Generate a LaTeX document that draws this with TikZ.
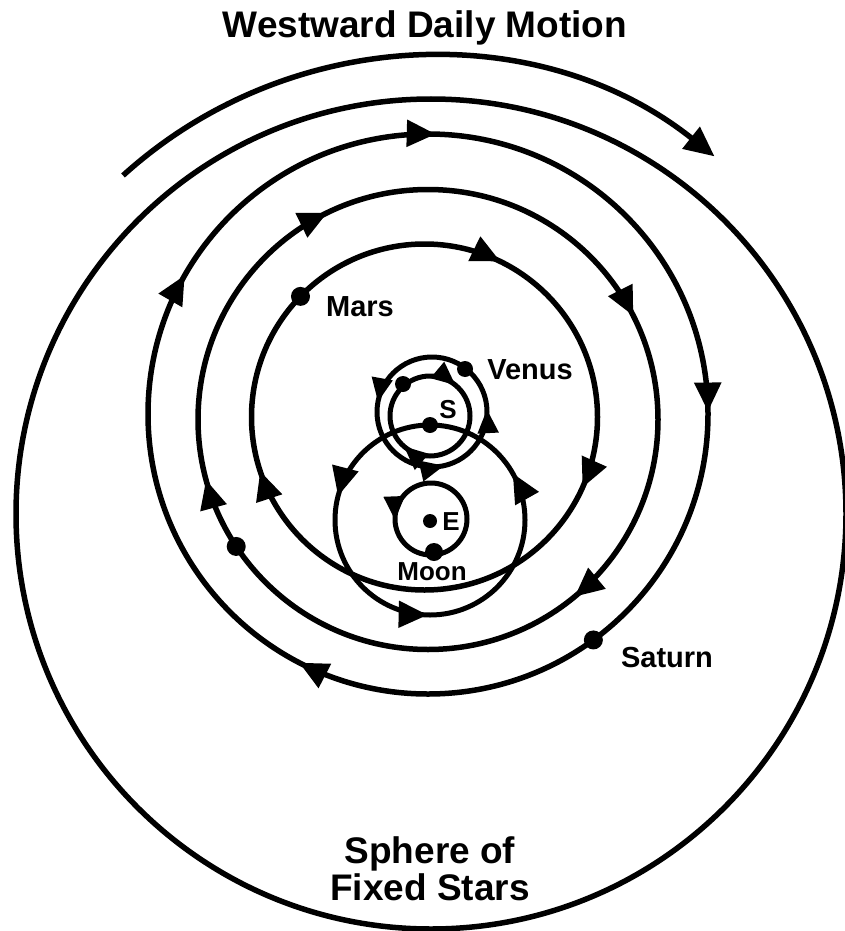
\documentclass[tikz,border=0pt]{standalone}
\usepackage{fontspec}
\setmainfont{Liberation Sans}
\usetikzlibrary{arrows.meta,decorations.markings}
\tikzset{
  orbit/.style={line width=5.5pt},
  thinorbit/.style={line width=5pt},
  bt/.tip={Triangle[length=29pt,width=26pt]},
  st/.tip={Triangle[length=24pt,width=20pt]},
  dot/.style={circle,fill,inner sep=0pt,minimum size=#1},
  dot/.default=19pt,
  title/.style={font=\fontsize{37}{40}\selectfont\bfseries,inner sep=0pt},
  lab/.style={font=\fontsize{29}{32}\selectfont\bfseries,inner sep=0pt},
  small/.style={font=\fontsize{26}{28}\selectfont\bfseries,inner sep=0pt},
}
\begin{document}
\begin{tikzpicture}[x=1pt,y=1pt]
\useasboundingbox (0,0) rectangle (844,-931);

% centres
\coordinate (F) at (431,-514);   % sphere of fixed stars
\coordinate (W) at (430,-514);   % westward arc
\coordinate (Sa) at (428,-414);  % Saturn
\coordinate (Ju) at (428,-419.5);% Jupiter
\coordinate (Ma) at (424.5,-417);% Mars
\coordinate (E) at (430,-520);   % Earth
\coordinate (Vc) at (432,-412);  % Venus circle centre
\coordinate (Mc) at (430,-416);  % Mercury circle centre
\coordinate (Lc) at (431,-519);  % Moon circle centre

% Sphere of fixed stars
\draw[orbit] (F) circle[radius=415pt];

% Westward daily motion arc
\draw[orbit,-{Triangle[length=30pt,width=27pt]}] ([shift={(132.2:457pt)}]W)
  arc[start angle=132.2,end angle=51.5,radius=457pt];

% Saturn ring (clockwise)
\draw[orbit,postaction={decorate},decoration={markings,
   mark=at position 0.3261 with {\arrow{bt}},
   mark=at position 0.5825 with {\arrow{bt}},
   mark=at position 0.7544 with {\arrow{bt}},
   mark=at position 0.9986 with {\arrow{bt}}}]
  ([shift={(0:280pt)}]Sa) arc[start angle=0,end angle=-360,radius=280pt];

% Jupiter ring (clockwise)
\draw[orbit,postaction={decorate},decoration={markings,
   mark=at position 0.14 with {\arrow{bt}},
   mark=at position 0.4578 with {\arrow{bt}},
   mark=at position 0.678 with {\arrow{bt}},
   mark=at position 0.9256 with {\arrow{bt}}}]
  ([shift={(0:230pt)}]Ju) arc[start angle=0,end angle=-360,radius=230pt];

% Mars ring (clockwise)
\draw[orbit,postaction={decorate},decoration={markings,
   mark=at position 0.0669 with {\arrow{bt}},
   mark=at position 0.4494 with {\arrow{bt}},
   mark=at position 0.8222 with {\arrow{bt}}}]
  ([shift={(0:173pt)}]Ma) arc[start angle=0,end angle=-360,radius=173pt];

% Sun's circle about the Earth (counter-clockwise)
\draw[thinorbit,postaction={decorate},decoration={markings,
   mark=at position 0.0817 with {\arrow{bt}},
   mark=at position 0.4594 with {\arrow{bt}},
   mark=at position 0.7461 with {\arrow{bt}}}]
  ([shift={(0:95pt)}]E) arc[start angle=0,end angle=360,radius=95pt];

% Venus circle (counter-clockwise)
\draw[thinorbit,postaction={decorate},decoration={markings,
   mark=at position 0.0083 with {\arrow{st}},
   mark=at position 0.471 with {\arrow{st}},
   mark=at position 0.786 with {\arrow{st}}}]
  ([shift={(0:55pt)}]Vc) arc[start angle=0,end angle=360,radius=55pt];

% Mercury circle (clockwise)
\draw[thinorbit,postaction={decorate},decoration={markings,
   mark=at position 0.364 with {\arrow{st}},
   mark=at position 0.861 with {\arrow{st}}}]
  ([shift={(0:40pt)}]Mc) arc[start angle=0,end angle=-360,radius=40pt];

% Moon circle (counter-clockwise)
\draw[thinorbit,postaction={decorate},decoration={markings,
   mark=at position 0.506 with {\arrow{st}}}]
  ([shift={(0:36pt)}]Lc) arc[start angle=0,end angle=360,radius=36pt];

% bodies
\node[dot] (saturn) at ([shift={(306.2:280pt)}]Sa) {};
\node[dot] (jupiter) at ([shift={(213.5:230pt)}]Ju) {};
\node[dot] (mars) at ([shift={(135.8:173pt)}]Ma) {};
\node[dot=16pt] (sun) at (430,-425) {};
\node[dot=16pt] (venus) at (465,-369) {};
\node[dot=16pt] (mercury) at (403,-384) {};
\node[dot=14pt] (earth) at (430,-521) {};
\node[dot=18pt] (moon) at (434,-552) {};

% labels
\node[title,anchor=base] (ttl) at (425,-38) {Westward Daily Motion};
\node[title,anchor=base] (sph1) at (430,-863) {Sphere of};
\node[title,anchor=base] (sph2) at (430,-900) {Fixed Stars};
\node[lab,anchor=base] (marslab) at (360,-316) {Mars};
\node[lab,anchor=base] (venuslab) at (530,-379) {Venus};
\node[lab,anchor=base] (saturnlab) at (667,-667) {Saturn};
\node[small,anchor=base] (slab) at (448,-418) {S};
\node[small,anchor=base] (elab) at (451,-530) {E};
\node[small,anchor=base] (moonlab) at (432,-580) {Moon};
\end{tikzpicture}
\end{document}
